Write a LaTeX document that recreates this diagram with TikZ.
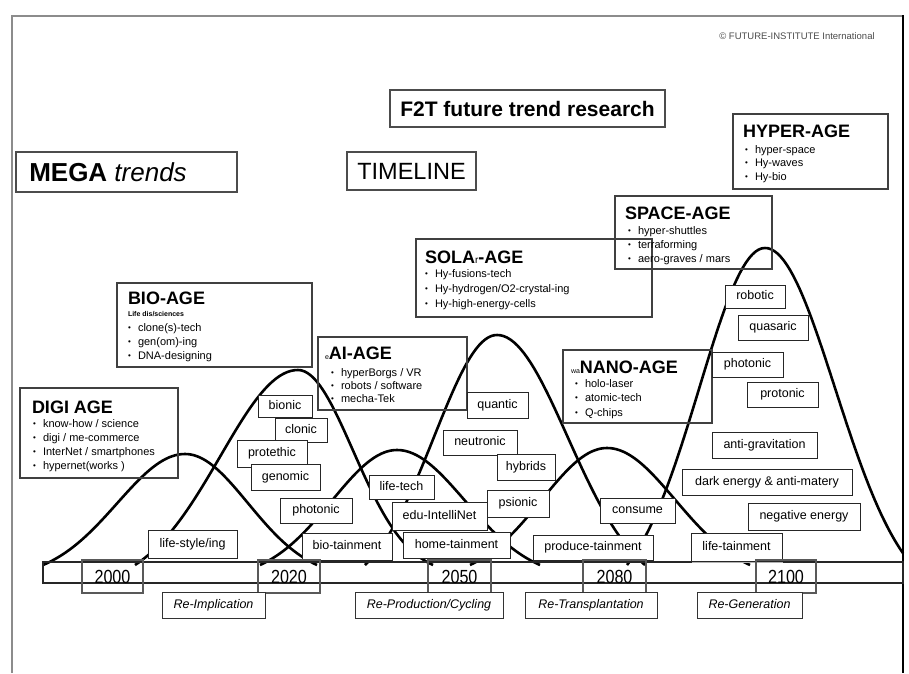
\documentclass[tikz,border=0pt]{standalone}
\usepackage{fontspec}
\setmainfont{Liberation Sans}
\newfontfamily\yearfont[FakeStretch=0.85]{Liberation Sans}
\usetikzlibrary{shadows}

% base line of all bell curves (top of the time strip)
\def\baseY{565}

% one bell curve: left foot, peak x, right end x, peak y, left sharpness, right sharpness, right half-span
\newcommand{\bellcurve}[7]{%
  \draw[curve] plot[domain=#1:#2, samples=45, variable=\t]
    (\t, {\baseY-(\baseY-#4)*(exp(-#5*((\t-#2)/(#2-#1))*((\t-#2)/(#2-#1)))-exp(-#5))/(1-exp(-#5))})
    -- plot[domain=#2:#3, samples=45, variable=\t]
    (\t, {\baseY-(\baseY-#4)*(exp(-#6*((\t-#2)/#7)*((\t-#2)/#7))-exp(-#6))/(1-exp(-#6))});
}

\newcommand{\agedot}{\makebox[10pt][l]{\raisebox{1pt}{\fontsize{8}{8}\selectfont\textbullet}}}

% bullet list: name prefix, x, first baseline, line gap, entries
\newcommand{\bulletlist}[5]{%
  \foreach \entry [count=\n] in {#5} {
    \node[bulletline, anchor=base west] (#1-\n) at ({#2}, {#3+(\n-1)*#4}) {\agedot\entry};
  }%
}

\tikzset{
  every node/.style={inner sep=0pt, outer sep=0pt},
  curve/.style={line width=2.6pt, line join=round},
  titlebox/.style={draw=black!70, line width=1.2pt},
  agebox/.style={draw=black!75, line width=1.2pt},
  agetitle/.style={font=\bfseries\fontsize{18}{18}\selectfont},
  agesub/.style={font=\bfseries\fontsize{7}{7}\selectfont},
  bulletline/.style={font=\fontsize{11}{11}\selectfont},
  tag/.style={draw=black!85, line width=0.9pt, fill=white,
    drop shadow={shadow xshift=1.3pt, shadow yshift=-1.3pt, fill=black!30, opacity=1},
    text height=9pt, text depth=2.6pt,
    font=\fontsize{12.5}{12.5}\selectfont},
  yearbox/.style={draw=black!65, line width=1.2pt, minimum height=33,
    text height=13.5pt, text depth=0pt,
    font=\yearfont\fontsize{19}{19}\selectfont},
  phase/.style={draw=black!80, line width=0.9pt, fill=white, minimum height=26,
    drop shadow={shadow xshift=1.3pt, shadow yshift=-1.3pt, fill=black!30, opacity=1},
    text height=9pt, text depth=2.6pt,
    font=\itshape\fontsize{12.5}{12.5}\selectfont},
}

\begin{document}
\begin{tikzpicture}[x=1pt, y=-1pt]
\useasboundingbox (0,0) rectangle (909,673);
\fill[white] (0,0) rectangle (909,673);

% page frame
\draw[black!45, line width=1.3pt] (12,673) -- (12,16) -- (903,16);
\draw[black, line width=2.6pt] (903,15) -- (903,673);

\node[font=\fontsize{9.5}{9.5}\selectfont, text=black!70] (copyright) at (797,36) {© FUTURE-INSTITUTE International};

% headings
\node[titlebox, minimum width=275, minimum height=37, font=\bfseries\fontsize{21}{21}\selectfont] (f2t) at (527.5,108.5) {F2T future trend research};
\node[titlebox, minimum width=221, minimum height=40] (mega) at (126.5,172) {};
\node[font=\fontsize{26}{26}\selectfont] (megatext) at (108,172) {\textbf{MEGA} \textit{trends}};
\node[titlebox, minimum width=129, minimum height=38, font=\fontsize{23.5}{23.5}\selectfont] (timeline) at (411.5,171) {TIMELINE};

% the six waves
\bellcurve{43}{185}{317}{454}{2.2}{2.2}{132}
\bellcurve{135}{298}{433}{370}{2.2}{3}{135}
\bellcurve{260}{397}{540}{450}{2.2}{2.2}{143}
\bellcurve{365}{497}{645}{335}{2.2}{2.2}{148}
\bellcurve{470}{607}{750}{448}{2.2}{2.2}{143}
\bellcurve{627}{765}{903}{248}{2.2}{2.2}{147}

% time strip
\node[draw=black!85, line width=1.1pt, minimum width=860, minimum height=21, anchor=north west] (strip) at (43,562) {};

% ages
\node[agebox, minimum width=158, minimum height=90, anchor=north west] (digi) at (20,388) {};
\node[agetitle, anchor=base west] (digi-t) at (32,413.5) {DIGI AGE};
\bulletlist{digi}{33}{427}{14}{know-how / science, digi / me-commerce, InterNet / smartphones, hypernet(works )}

\node[agebox, minimum width=195, minimum height=84, anchor=north west] (bio) at (117,283) {};
\node[agetitle, anchor=base west] (bio-t) at (128,304.5) {BIO-AGE};
\node[agesub, anchor=base west] (bio-s) at (128,316) {Life dis/sciences};
\bulletlist{bio}{128}{331}{14}{clone(s)-tech, gen(om)-ing, DNA-designing}

\node[agebox, minimum width=149, minimum height=73, anchor=north west] (ai) at (318,337) {};
\node[agetitle, anchor=base west] (ai-t) at (325,359.5) {{\mdseries\fontsize{7}{7}\selectfont e}AI-AGE};
\bulletlist{ai}{331}{376}{13}{hyperBorgs / VR, robots / software, mecha-Tek}

\node[agebox, minimum width=236, minimum height=78, anchor=north west] (solar) at (416,239) {};
\node[agetitle, anchor=base west] (solar-t) at (425,263.5) {SOLA{\mdseries\fontsize{10}{10}\selectfont r}-AGE};
\bulletlist{solar}{425}{277}{15}{Hy-fusions-tech, Hy-hydrogen/O2-crystal-ing, Hy-high-energy-cells}

\node[agebox, minimum width=149, minimum height=73, anchor=north west] (nano) at (563,350) {};
\node[agetitle, anchor=base west] (nano-t) at (571,373.5) {{\mdseries\fontsize{7}{7}\selectfont wa}NANO-AGE};
\bulletlist{nano}{575}{387}{14.5}{holo-laser, atomic-tech, Q-chips}

\node[agebox, minimum width=157, minimum height=73, anchor=north west] (space) at (615,196) {};
\node[agetitle, anchor=base west] (space-t) at (625,219.5) {SPACE-AGE};
\bulletlist{space}{628}{234}{14}{hyper-shuttles, terraforming, aero-graves / mars}

\node[agebox, minimum width=155, minimum height=75, anchor=north west] (hyper) at (733,114) {};
\node[agetitle, anchor=base west] (hyper-t) at (743,137.5) {HYPER-AGE};
\bulletlist{hyper}{745}{153}{13.5}{hyper-space, Hy-waves, Hy-bio}

% technologies riding on the waves
\node[tag, minimum width=89, minimum height=28] (lifestyle) at (192.5,544) {life-style/ing};
\node[tag, minimum width=90, minimum height=27] (biotain) at (347,546.5) {bio-tainment};
\node[tag, minimum width=107, minimum height=26] (hometain) at (456.5,545) {home-tainment};
\node[tag, minimum width=120, minimum height=25] (producetain) at (593,547.5) {produce-tainment};
\node[tag, minimum width=91, minimum height=28] (lifetain) at (736.5,547.5) {life-tainment};

\node[tag, minimum width=54, minimum height=22] (bionic) at (285,406) {bionic};
\node[tag, minimum width=52, minimum height=24] (clonic) at (301,430) {clonic};
\node[tag, minimum width=70, minimum height=27] (protethic) at (272,453.5) {protethic};
\node[tag, minimum width=69, minimum height=26] (genomic) at (285.5,477) {genomic};
\node[tag, minimum width=72, minimum height=25] (photonic1) at (316,510.5) {photonic};

\node[tag, minimum width=65, minimum height=24] (lifetech) at (401.5,487) {life-tech};
\node[tag, minimum width=95, minimum height=28] (edu) at (439.5,516) {edu-IntelliNet};
\node[tag, minimum width=61, minimum height=26] (quantic) at (497.5,405) {quantic};
\node[tag, minimum width=74, minimum height=25] (neutronic) at (480,442.5) {neutronic};
\node[tag, minimum width=58, minimum height=26] (hybrids) at (526,467) {hybrids};
\node[tag, minimum width=62, minimum height=27] (psionic) at (518,503.5) {psionic};
\node[tag, minimum width=75, minimum height=25] (consume) at (637.5,510.5) {consume};

\node[tag, minimum width=60, minimum height=23] (robotic) at (755,296.5) {robotic};
\node[tag, minimum width=70, minimum height=25] (quasaric) at (773,327.5) {quasaric};
\node[tag, minimum width=71, minimum height=25] (photonic2) at (747.5,364.5) {photonic};
\node[tag, minimum width=71, minimum height=25] (protonic) at (782.5,394.5) {protonic};
\node[tag, minimum width=105, minimum height=26] (antigrav) at (764.5,445) {anti-gravitation};
\node[tag, minimum width=170, minimum height=26] (darkenergy) at (767,482) {dark energy \& anti-matery};
\node[tag, minimum width=112, minimum height=27] (negenergy) at (804,516.5) {negative energy};

% years
\node[yearbox, minimum width=61] (y2000) at (112.5,576.5) {2000};
\node[yearbox, minimum width=62] (y2020) at (289,576.5) {2020};
\node[yearbox, minimum width=63] (y2050) at (459.5,576.5) {2050};
\node[yearbox, minimum width=63] (y2080) at (614.5,576.5) {2080};
\node[yearbox, minimum width=60] (y2100) at (786,576.5) {2100};

% phases
\node[phase, minimum width=103] (reimpl) at (213.5,605) {Re-Implication};
\node[phase, minimum width=148] (reprod) at (429,605) {Re-Production/Cycling};
\node[phase, minimum width=132] (retrans) at (591,605) {Re-Transplantation};
\node[phase, minimum width=105] (regen) at (749.5,605) {Re-Generation};
\end{tikzpicture}
\end{document}
